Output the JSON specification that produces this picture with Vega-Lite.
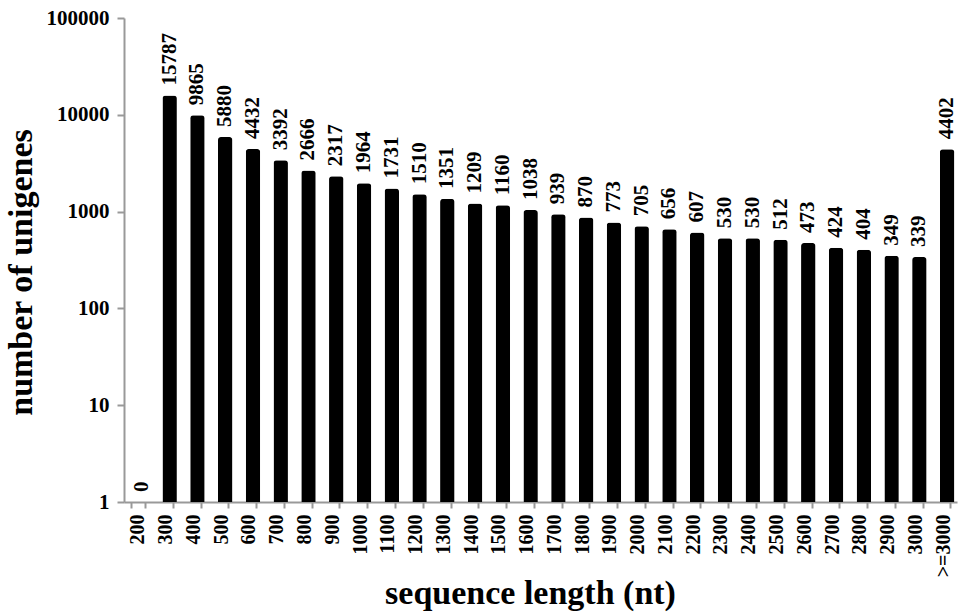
{
  "$schema": "https://vega.github.io/schema/vega-lite/v6.json",
  "width": 833,
  "height": 484,
  "autosize": "none",
  "padding": {"left": 124, "top": 18, "right": 4, "bottom": 113},
  "background": "white",
  "config": {
    "view": {"stroke": null},
    "font": "Liberation Serif"
  },
  "data": {
    "values": [
      {"len": "200", "n": 0},
      {"len": "300", "n": 15787},
      {"len": "400", "n": 9865},
      {"len": "500", "n": 5880},
      {"len": "600", "n": 4432},
      {"len": "700", "n": 3392},
      {"len": "800", "n": 2666},
      {"len": "900", "n": 2317},
      {"len": "1000", "n": 1964},
      {"len": "1100", "n": 1731},
      {"len": "1200", "n": 1510},
      {"len": "1300", "n": 1351},
      {"len": "1400", "n": 1209},
      {"len": "1500", "n": 1160},
      {"len": "1600", "n": 1038},
      {"len": "1700", "n": 939},
      {"len": "1800", "n": 870},
      {"len": "1900", "n": 773},
      {"len": "2000", "n": 705},
      {"len": "2100", "n": 656},
      {"len": "2200", "n": 607},
      {"len": "2300", "n": 530},
      {"len": "2400", "n": 530},
      {"len": "2500", "n": 512},
      {"len": "2600", "n": 473},
      {"len": "2700", "n": 424},
      {"len": "2800", "n": 404},
      {"len": "2900", "n": 349},
      {"len": "3000", "n": 339},
      {"len": ">=3000", "n": 4402}
    ]
  },
  "encoding": {
    "x": {
      "field": "len",
      "type": "nominal",
      "sort": null,
      "scale": {"paddingInner": 0.48, "paddingOuter": 0.24},
      "axis": {
        "title": "sequence length (nt)",
        "titleFont": "Liberation Serif",
        "titleFontSize": 34,
        "titleFontWeight": "bold",
        "titleColor": "black",
        "titlePadding": 0,
        "titleX": 406,
        "labelAngle": -90,
        "labelAlign": "right",
        "labelBaseline": "middle",
        "labelFont": "Liberation Serif",
        "labelFontSize": 20,
        "labelFontWeight": "bold",
        "labelColor": "black",
        "labelPadding": 6,
        "tickBand": "extent",
        "tickColor": "#999999",
        "tickSize": 6,
        "tickWidth": 2,
        "domainColor": "#999999",
        "domainWidth": 2
      }
    },
    "y": {
      "field": "n",
      "type": "quantitative",
      "scale": {"type": "log", "domain": [1, 100000], "clamp": true, "nice": false},
      "axis": {
        "title": "number of unigenes",
        "titleFont": "Liberation Serif",
        "titleFontSize": 34,
        "titleFontWeight": "bold",
        "titleColor": "black",
        "titlePadding": 8,
        "titleY": 254,
        "values": [1, 10, 100, 1000, 10000, 100000],
        "format": "d",
        "grid": false,
        "labelFont": "Liberation Serif",
        "labelFontSize": 21,
        "labelFontWeight": "bold",
        "labelColor": "black",
        "labelPadding": 8,
        "tickColor": "#999999",
        "tickSize": 7,
        "tickWidth": 2,
        "domainColor": "#999999",
        "domainWidth": 2
      }
    }
  },
  "layer": [
    {
      "mark": {"type": "bar", "color": "black", "xOffset": 4, "cornerRadiusTopLeft": 3, "cornerRadiusTopRight": 3}
    },
    {
      "mark": {
        "type": "text",
        "angle": 270,
        "align": "left",
        "baseline": "middle",
        "dx": 10,
        "xOffset": 4,
        "font": "Liberation Serif",
        "fontSize": 21,
        "fontWeight": "bold",
        "color": "black",
        "invalid": null
      },
      "encoding": {"text": {"field": "n", "type": "quantitative", "format": "d"}}
    }
  ]
}
